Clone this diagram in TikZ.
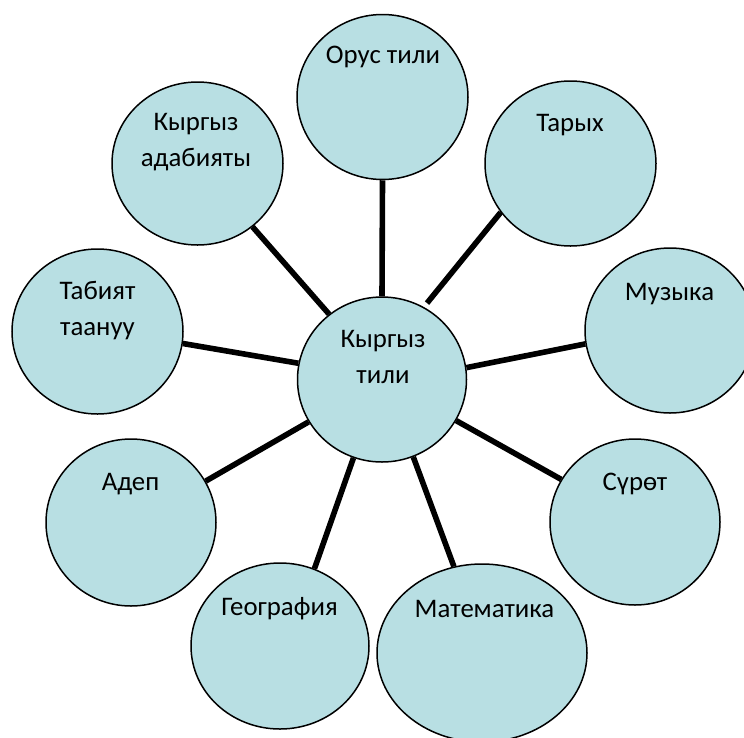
\documentclass[tikz,border=0pt]{standalone}
\usepackage{fontspec}
\setmainfont{Carlito}
\usetikzlibrary{shapes.geometric}
\definecolor{bubblefill}{RGB}{184,223,227}
\tikzset{
  bubble/.style={ellipse, draw=black, line width=1.5pt, fill=bubblefill, inner sep=0pt},
  lbl/.style={anchor=base, align=center, inner sep=0pt, font=\fontsize{26.8}{36}\selectfont, text=black},
  spoke/.style={line width=5.6pt, black}
}
\begin{document}
\begin{tikzpicture}[x=1pt,y=-1pt]
\useasboundingbox (0,0) rectangle (744,737);
% bubbles (size = 2rx x 2ry)
\node[bubble, minimum width=169pt, minimum height=165pt] (K) at (382,379.5) {};
\node[bubble, minimum width=171pt, minimum height=165pt] (orus) at (382.5,97) {};
\node[bubble, minimum width=171pt, minimum height=165pt] (tarych) at (570.5,163.5) {};
\node[bubble, minimum width=171pt, minimum height=163pt] (adab) at (197.5,163.5) {};
\node[bubble, minimum width=171pt, minimum height=165pt] (tabiyat) at (97.5,331.5) {};
\node[bubble, minimum width=170pt, minimum height=165pt] (muz) at (670,330.5) {};
\node[bubble, minimum width=170pt, minimum height=167pt] (adep) at (131,522.5) {};
\node[bubble, minimum width=170pt, minimum height=166pt] (suret) at (635,522) {};
\node[bubble, minimum width=178pt, minimum height=166pt] (geog) at (280,646) {};
\node[bubble, minimum width=210pt, minimum height=178pt] (matem) at (482,653) {};
% spokes
\draw[spoke] (orus.-90) -- (K.90);
\draw[spoke, shorten >=5pt] (tarych.215) -- (K.60.8);
\draw[spoke] (adab.-49.4) -- (K.129.7);
\draw[spoke] (tabiyat.-8.8) -- (K.169.9);
\draw[spoke] (muz.189.2) -- (K.8.9);
\draw[spoke] (adep.29.3) -- (K.210.9);
\draw[spoke] (suret.150.2) -- (K.-29.6);
\draw[spoke] (geog.66.3) -- (K.250.5);
\draw[spoke] (matem.108.7) -- (K.-68.3);
% labels (base = baseline of the last line)
\node[lbl] (tK) at (383,383) {Кыргыз\\тили};
\node[lbl] (torus) at (383,63) {Орус тили};
\node[lbl] (ttarych) at (570,131) {Тарых};
\node[lbl] (tadab) at (196,166) {Кыргыз\\адабияты};
\node[lbl] (ttabiyat) at (97.5,335) {Табият\\таануу};
\node[lbl] (tmuz) at (669.5,300) {Музыка};
\node[lbl] (tadep) at (130.5,490) {Адеп};
\node[lbl] (tsuret) at (635,490) {Сүрөт};
\node[lbl] (tgeog) at (279.5,615) {География};
\node[lbl] (tmatem) at (484.5,617) {Математика};
\end{tikzpicture}
\end{document}
